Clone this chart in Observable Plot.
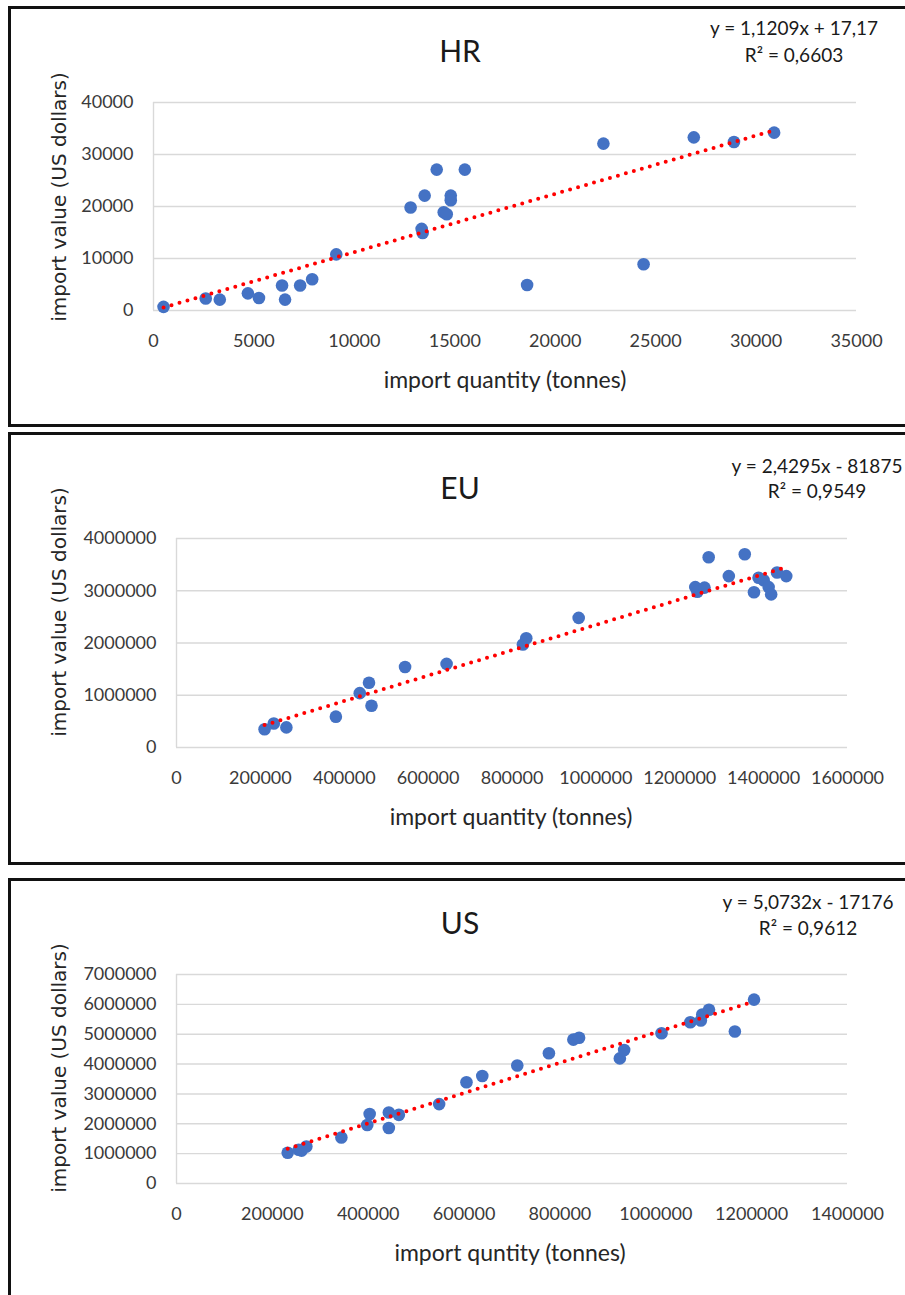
<!DOCTYPE html>
<html>
<head>
<meta charset="utf-8">
<script src="https://cdn.jsdelivr.net/npm/d3@7"></script>
<script src="https://cdn.jsdelivr.net/npm/@observablehq/plot@0.6"></script>
<style>
  html, body { margin: 0; padding: 0; background: #fff; }
  body { width: 905px; height: 1295px; overflow: hidden; position: relative; font-family: Lato, "Open Sans", sans-serif; }
  .panel { position: absolute; left: 8px; width: 920px; border: 3px solid #111; box-sizing: border-box; pointer-events: none; z-index: 5; }
  .t { position: absolute; transform: translate(-50%, -50%); white-space: nowrap; line-height: 1; color: #222; z-index: 4; }
  .title { font-size: 30px; color: #1a1a1a; }
  .eq { font-size: 19px; color: #1a1a1a; text-align: center; }
  .xl { font-size: 23px; color: #262626; }
  .yl { font-family: "DejaVu Sans", sans-serif; font-size: 20px; color: #262626; transform: translate(-50%, -50%) rotate(-90deg); }
  svg { position: absolute; left: 0; z-index: 2; }
</style>
</head>
<body>
<script>
// ---------- DATA ----------
const titles = ["HR", "EU", "US"];
const xLabels = ["import quantity (tonnes)", "import quantity (tonnes)", "import quntity (tonnes)"];
const yLabel = "import value (US dollars)";
const equations = ["y = 1,1209x + 17,17", "y = 2,4295x - 81875", "y = 5,0732x - 17176"];
const rSquared = ["R² = 0,6603", "R² = 0,9549", "R² = 0,9612"];
const slopes = [1.1209, 2.4295, 5.0732];
const intercepts = [17.17, -81875, -17176];

// HR
const hrQty = [500, 2600, 3300, 4700, 5250, 6400, 6550, 7300, 7900, 9100, 12800, 13350, 13400, 13500, 14100, 15500, 14800, 14800, 14450, 14600, 18600, 22400, 24400, 26900, 28900, 30900];
const hrVal = [700, 2300, 2100, 3300, 2400, 4800, 2100, 4800, 6000, 10800, 19800, 15700, 14900, 22100, 27100, 27100, 22100, 21200, 18900, 18500, 4900, 32100, 8900, 33300, 32400, 34200];
const hrXTicks = [0, 5000, 10000, 15000, 20000, 25000, 30000, 35000];
const hrYTicks = [0, 10000, 20000, 30000, 40000];

// EU
const euQty = [210000, 232000, 262000, 380000, 437000, 459000, 465000, 545000, 644000, 826000, 834000, 959000, 1237000, 1242000, 1259000, 1269000, 1317000, 1355000, 1377000, 1388000, 1400000, 1412000, 1418000, 1432000, 1454000];
const euVal = [350000, 460000, 385000, 590000, 1040000, 1240000, 800000, 1540000, 1600000, 1970000, 2090000, 2480000, 3070000, 2980000, 3060000, 3640000, 3280000, 3700000, 2970000, 3250000, 3200000, 3070000, 2930000, 3350000, 3280000];
const euXTicks = [0, 200000, 400000, 600000, 800000, 1000000, 1200000, 1400000, 1600000];
const euYTicks = [0, 1000000, 2000000, 3000000, 4000000];

// US
const usQty = [232000, 255000, 261000, 271000, 344000, 398000, 403000, 443000, 443000, 464000, 548000, 605000, 638000, 711000, 777000, 828000, 840000, 925000, 934000, 1012000, 1072000, 1094000, 1097000, 1111000, 1165000, 1205000];
const usVal = [1030000, 1130000, 1100000, 1240000, 1540000, 1960000, 2330000, 2380000, 1860000, 2300000, 2660000, 3390000, 3600000, 3950000, 4360000, 4820000, 4880000, 4190000, 4470000, 5030000, 5400000, 5460000, 5660000, 5820000, 5090000, 6160000];
const usXTicks = [0, 200000, 400000, 600000, 800000, 1000000, 1200000, 1400000];
const usYTicks = [0, 1000000, 2000000, 3000000, 4000000, 5000000, 6000000, 7000000];

// ---------- LAYOUT ----------
const layouts = [
  {qty: hrQty, val: hrVal, xt: hrXTicks, yt: hrYTicks, top: 0, height: 430, mt: 102, mb: 120, ml: 153, mr: 49,
   box: [6, 421], title: [460, 50], eq: [794, 27, 54], xl: [505, 379], yl: [59, 197]},
  {qty: euQty, val: euVal, xt: euXTicks, yt: euYTicks, top: 430, height: 440, mt: 108, mb: 123, ml: 176, mr: 58,
   box: [432, 433], title: [460, 487], eq: [817, 465, 490], xl: [511, 816], yl: [59, 612]},
  {qty: usQty, val: usVal, xt: usXTicks, yt: usYTicks, top: 870, height: 425, mt: 104, mb: 112, ml: 176, mr: 58,
   box: [878, 440], title: [460, 922], eq: [808, 901, 927], xl: [510, 1252], yl: [59, 1068]}
];

function addText(cls, txt, x, y) {
  const d = document.createElement("div");
  d.className = "t " + cls;
  d.textContent = txt;
  d.style.left = x + "px";
  d.style.top = y + "px";
  document.body.appendChild(d);
}

layouts.forEach((L, i) => {
  const data = L.qty.map((q, j) => ({q, v: L.val[j]}));
  const ext = d3.extent(L.qty);
  const trend = ext.map(q => ({q, v: slopes[i] * q + intercepts[i]}));
  const fmt = d => String(d);
  const svg = Plot.plot({
    width: 905,
    height: L.height,
    marginLeft: L.ml, marginRight: L.mr, marginTop: L.mt, marginBottom: L.mb,
    style: {fontFamily: "Lato, sans-serif", fontSize: "18px", color: "#3a3a3a", background: "transparent", overflow: "visible"},
    x: {domain: [L.xt[0], L.xt[L.xt.length - 1]]},
    y: {domain: [L.yt[0], L.yt[L.yt.length - 1]]},
    marks: [
      Plot.gridY(L.yt, {stroke: "#d9d9d9", strokeOpacity: 1, strokeWidth: 1.4}),
      Plot.ruleX([L.xt[0]], {stroke: "#d9d9d9", strokeWidth: 1.4}),
      Plot.axisY(L.yt, {tickSize: 0, tickPadding: 20, tickFormat: fmt, label: null, fontSize: 18}),
      Plot.axisX(L.xt, {tickSize: 0, tickPadding: 24, tickFormat: fmt, label: null, fontSize: 18}),
      Plot.dot(data, {x: "q", y: "v", r: 6.3, fill: "#4472C4"}),
      Plot.line(trend, {x: "q", y: "v", stroke: "#ff0000", strokeWidth: 4, strokeDasharray: "0 8.3", strokeLinecap: "round"})
    ]
  });
  svg.style.top = L.top + "px";
  document.body.appendChild(svg);

  const box = document.createElement("div");
  box.className = "panel";
  box.style.top = L.box[0] + "px";
  box.style.height = L.box[1] + "px";
  document.body.appendChild(box);

  addText("title", titles[i], L.title[0], L.title[1]);
  addText("eq", equations[i], L.eq[0], L.eq[1]);
  addText("eq", rSquared[i], L.eq[0], L.eq[2]);
  addText("xl", xLabels[i], L.xl[0], L.xl[1]);
  addText("yl", yLabel, L.yl[0], L.yl[1]);
});
</script>
</body>
</html>
